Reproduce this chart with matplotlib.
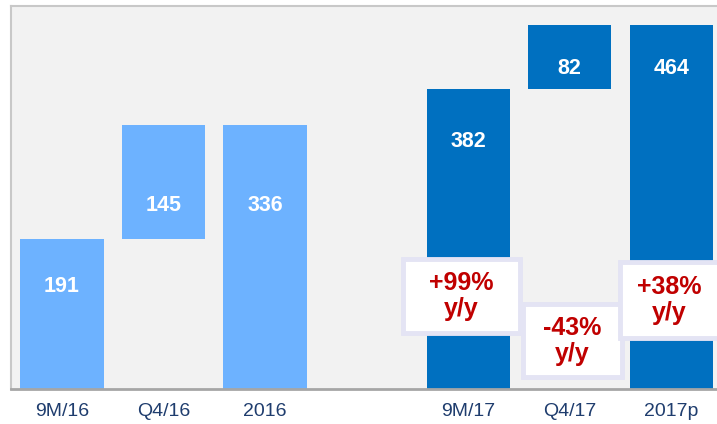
import matplotlib.pyplot as plt
from matplotlib.patches import Rectangle

plt.rcParams['font.family'] = ['Liberation Sans', 'DejaVu Sans']

# data
categories = ["9M/16", "Q4/16", "2016", "9M/17", "Q4/17", "2017p"]
values = [191, 145, 336, 382, 82, 464]
bases = [0, 191, 0, 0, 382, 0]
colors = ["#6db2ff", "#6db2ff", "#6db2ff", "#0070c0", "#0070c0", "#0070c0"]
positions = [0, 1, 2, 4, 5, 6]

growth_labels = ["+99%\ny/y", "-43%\ny/y", "+38%\ny/y"]

# layout helpers (not data)
label_y = [130, 234, 234, 315, 409, 409]
boxes = [(3.36, 71, 1.15, 95), (4.54, 15, 0.97, 93), (5.49, 65, 0.98, 97)]

fig = plt.figure(figsize=(7.17, 4.24), dpi=100)
ax = fig.add_axes([0.0153, 0.0825, 0.9847, 0.9033])
ax.set_facecolor("#f2f2f2")

ax.bar(positions, values, bottom=bases, width=0.82, color=colors, zorder=2)

for p, v, ly in zip(positions, values, label_y):
    ax.text(p, ly, str(v), ha="center", va="center", color="white",
            fontsize=15.5, fontweight="bold", zorder=3)

for (x0, y0, w, h), txt in zip(boxes, growth_labels):
    ax.add_patch(Rectangle((x0, y0), w, h, facecolor="white", edgecolor="#e4e4f4",
                           linewidth=3.5, zorder=4))
    ax.text(x0 + w / 2, y0 + h / 2, txt, ha="center", va="center", color="#c00000",
            fontsize=18, fontweight="bold", linespacing=1.1, zorder=5)

ax.set_xlim(-0.502, 6.45)
ax.set_ylim(0, 488)
ax.set_xticks(positions)
ax.set_xticklabels(categories, fontsize=14, color="#1f3d6e")
ax.set_yticks([])
ax.tick_params(axis="x", length=0, pad=10)

for s in ["left", "top"]:
    ax.spines[s].set_color("#c8c8c8")
    ax.spines[s].set_linewidth(1.5)
ax.spines["right"].set_visible(False)
ax.spines["bottom"].set_color("#a6a6a6")
ax.spines["bottom"].set_linewidth(2)

plt.savefig("out.png", dpi=100)
